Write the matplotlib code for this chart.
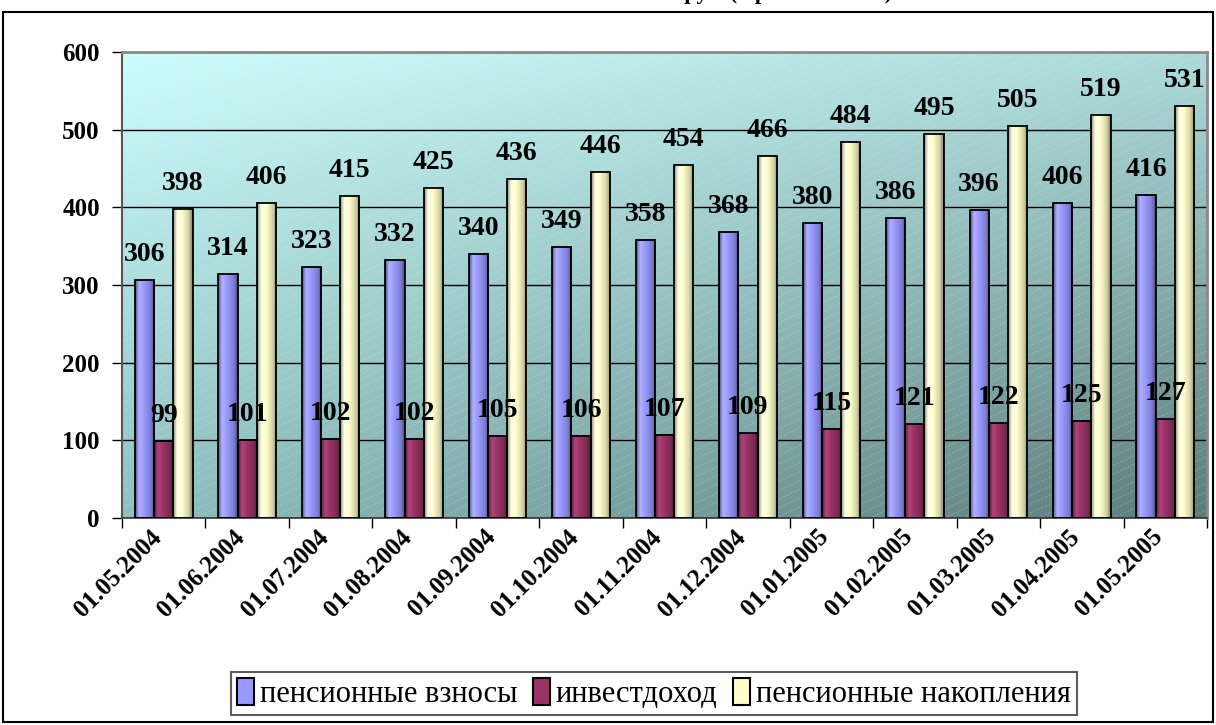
import numpy as np
import matplotlib
matplotlib.use('Agg')
import matplotlib.pyplot as plt
from matplotlib import font_manager as fm
from matplotlib.patches import Rectangle, Patch
from matplotlib.collections import LineCollection
from matplotlib.colors import to_rgb
from matplotlib.transforms import ScaledTranslation

_avail = set(f.name for f in fm.fontManager.ttflist)
_cands = ['Liberation Serif', 'Tinos', 'Times New Roman', 'Nimbus Roman', 'Nimbus Roman No9 L',
          'FreeSerif', 'DejaVu Serif', 'Noto Serif', 'PT Serif']
SERIF = [c for c in _cands if c in _avail] or ['serif']
plt.rcParams['font.family'] = SERIF

# ---------------- data ----------------
dates = ['01.05.2004', '01.06.2004', '01.07.2004', '01.08.2004', '01.09.2004',
         '01.10.2004', '01.11.2004', '01.12.2004', '01.01.2005', '01.02.2005',
         '01.03.2005', '01.04.2005', '01.05.2005']
vznosy = [306, 314, 323, 332, 340, 349, 358, 368, 380, 386, 396, 406, 416]
investdohod = [99, 101, 102, 102, 105, 106, 107, 109, 115, 121, 122, 125, 127]
nakopleniya = [398, 406, 415, 425, 436, 446, 454, 466, 484, 495, 505, 519, 531]
series_names = ['пенсионные взносы', 'инвестдоход', 'пенсионные накопления']
y_ticks = [0, 100, 200, 300, 400, 500, 600]
title_text = 'Пенсионные накопления в млн. руб. (в рамках ОПС)'

colors = ['#9999ff', '#993366', '#ffffcc']

fig = plt.figure(figsize=(12.16, 7.25), dpi=100)
W, H = 1216, 725

# outer frame
fig.patches.append(Rectangle((3 / W, 3 / H), 1210 / W, 710 / H, transform=fig.transFigure,
                             fill=False, edgecolor='black', lw=1.5, zorder=0))
# title (its lower edge shows at the top, as in the reference)
fig.text(0.513, 1 + 1 / H, title_text, ha='center', va='baseline',
         fontsize=16, fontweight='bold')

ax = fig.add_axes([122 / W, 1 - 518 / H, 1085 / W, 466 / H])

# background gradient (light cyan top-left -> dark teal bottom-right)
ny, nx = 200, 400
yy, xx = np.mgrid[0:1:complex(0, ny), 0:1:complex(0, nx)]
TL = np.array([206, 253, 253]) / 255
TR = np.array([172, 218, 218]) / 255
BL = np.array([142, 192, 191]) / 255
BR = np.array([92, 124, 122]) / 255
bg = ((1 - xx)[..., None] * (1 - yy)[..., None] * TL + xx[..., None] * (1 - yy)[..., None] * TR +
      (1 - xx)[..., None] * yy[..., None] * BL + xx[..., None] * yy[..., None] * BR)
ax.imshow(bg, extent=[0, 1, 0, 1], transform=ax.transAxes, aspect='auto', zorder=0,
          interpolation='bilinear')

# faint diagonal hatch lines (decorative)
aw, ah = 1085.0, 466.0
slope = 0.47
segs = []
step = 8.8
c = -slope * aw
while c < ah:
    segs.append([(0.0, c / ah), (1.0, (c + slope * aw) / ah)])
    c += step
lc = LineCollection(segs, transform=ax.transAxes, colors=[(1, 1, 1, 0.22)], linewidths=0.6,
                    linestyles=(0, (3, 2)), zorder=0.2)
ax.add_collection(lc)

ax.set_axisbelow(True)
ax.yaxis.grid(True, color='black', lw=1.0)

n = len(dates)
xc = np.arange(n) + 0.5
bw = 0.23
series = [vznosy, investdohod, nakopleniya]
offs = [-bw, 0, bw]


def gradient(color):
    base = np.array(to_rgb(color))
    stops = [(0.0, base * 0.55), (0.2, np.minimum(base * 1.08 + 0.05, 1)), (0.45, base),
             (0.8, base * 0.82), (1.0, base * 0.5)]
    t = np.linspace(0, 1, 40)
    arr = np.zeros((40, 3))
    for k in range(3):
        arr[:, k] = np.interp(t, [s[0] for s in stops], [s[1][k] for s in stops])
    return arr


for vals, off, col in zip(series, offs, colors):
    bars = ax.bar(xc + off, vals, width=bw, facecolor='none', edgecolor='black',
                  linewidth=1.3, zorder=3)
    g = gradient(col)[None, :, :]
    for p in bars:
        x, w, h = p.get_x(), p.get_width(), p.get_height()
        ax.imshow(g, extent=[x, x + w, 0, h], aspect='auto', zorder=2, interpolation='bilinear')
    for xi, v in zip(xc + off, vals):
        ax.annotate(str(v), (xi, v), xytext=(0, 19), textcoords='offset pixels',
                    ha='center', va='baseline', fontsize=20, fontweight='bold', zorder=5)

ax.set_autoscale_on(False)
ax.set_xlim(0, n)
ax.set_ylim(0, 600)
ax.set_aspect('auto')

ax.set_yticks(y_ticks)
ax.set_yticklabels([str(v) for v in y_ticks], fontsize=18, fontweight='bold')
ax.tick_params(axis='y', direction='out', length=7, width=1, pad=9)

ax.set_xticks(np.arange(n + 1))
ax.set_xticklabels([])
ax.tick_params(axis='x', which='major', direction='out', length=7, width=1)
ax.set_xticks(xc, minor=True)
ax.set_xticklabels(dates, minor=True, rotation=45, ha='right', va='center',
                   rotation_mode='anchor', fontsize=18, fontweight='bold')
ax.tick_params(axis='x', which='minor', length=0, pad=11)
shift = ScaledTranslation(-6 / 100, 0, fig.dpi_scale_trans)
for lab in ax.get_xticklabels(minor=True):
    lab.set_transform(lab.get_transform() + shift)

for s in ['top', 'right']:
    ax.spines[s].set_color('#8a8a8a')
    ax.spines[s].set_linewidth(2)
ax.spines['left'].set_color('#555555')
ax.spines['left'].set_linewidth(1.5)
ax.spines['bottom'].set_color('#333333')
ax.spines['bottom'].set_linewidth(1.2)

handles = [Patch(facecolor=c, edgecolor='black', lw=1.5) for c in colors]
leg = fig.legend(handles, series_names, loc='center', bbox_to_anchor=(654 / W, 1 - 693.5 / H),
                 ncol=3, frameon=True, fancybox=False, edgecolor='#333333',
                 prop={'size': 22}, handlelength=0.55, handleheight=1.0,
                 handletextpad=0.2, columnspacing=0.5, borderpad=0.2)
leg.get_frame().set_linewidth(1.5)

fig.savefig('out.png', dpi=100)
